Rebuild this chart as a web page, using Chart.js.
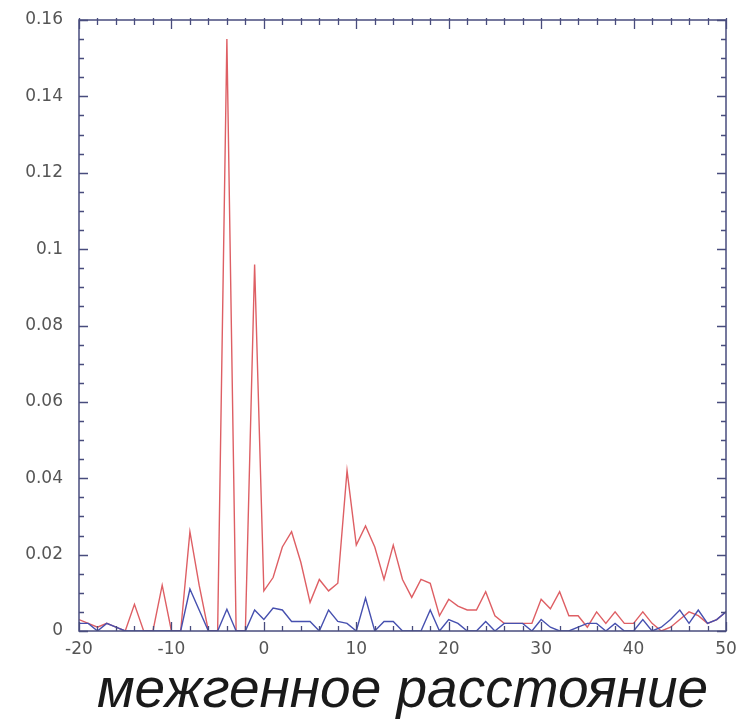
<!DOCTYPE html>
<html>
<head>
<meta charset="utf-8">
<script src="https://cdn.jsdelivr.net/npm/chart.js@4"></script>
<style>
  html, body { margin: 0; padding: 0; background: #fff; }
  #wrap { width: 748px; height: 719px; }
</style>
</head>
<body>
<div id="wrap"><canvas id="c" width="748" height="719"></canvas></div>
<script>
// Intergenic distance (x) from -20 to 50, step 1
const distances = [];
for (let d = -20; d <= 50; d++) distances.push(d);

// Red series values, one per distance
const redValues = [
  0.003, 0.002, 0.001, 0.002, 0.001, 0, 0.007, 0, 0, 0.012,
  0, 0, 0.026, 0.012, 0, 0, 0.155, 0, 0, 0.096,
  0.0105, 0.014, 0.022, 0.026, 0.018, 0.0075, 0.0135, 0.0105, 0.0125, 0.042,
  0.0225, 0.0275, 0.022, 0.0135, 0.0225, 0.0135, 0.0088, 0.0135, 0.0125, 0.004,
  0.0083, 0.0065, 0.0055, 0.0055, 0.0103, 0.004, 0.002, 0.002, 0.002, 0.002,
  0.0083, 0.0058, 0.0103, 0.004, 0.004, 0.001, 0.005, 0.002, 0.005, 0.002,
  0.002, 0.005, 0.002, 0, 0.001, 0.003, 0.005, 0.004, 0.002, 0.003,
  0.005
];

// Blue series values, one per distance
const blueValues = [
  0.002, 0.002, 0, 0.002, 0.001, 0, 0, 0, 0, 0,
  0, 0, 0.011, 0.0055, 0, 0, 0.0057, 0, 0, 0.0055,
  0.003, 0.006, 0.0055, 0.0025, 0.0025, 0.0025, 0, 0.0055, 0.0025, 0.002,
  0, 0.0086, 0, 0.0025, 0.0025, 0, 0, 0, 0.0055, 0,
  0.003, 0.002, 0, 0, 0.0025, 0, 0.002, 0.002, 0.002, 0,
  0.003, 0.001, 0, 0, 0.001, 0.002, 0.002, 0, 0.002, 0,
  0, 0.003, 0, 0.001, 0.003, 0.0055, 0.002, 0.0055, 0.002, 0.003,
  0.005
];

const X_MIN = -20, X_MAX = 50, X_STEP = 10, X_MINOR = 2;
const Y_MIN = 0, Y_MAX = 0.16, Y_STEP = 0.02, Y_MINOR = 0.005;
const X_TITLE = 'межгенное расстояние';

const FRAME = 'rgb(72,76,125)';

const toPoints = vals => distances.map((d, i) => ({ x: d, y: vals[i] }));

const framePlugin = {
  id: 'frame',
  afterDatasetsDraw(chart) {
    const { ctx, chartArea: { left, right, top, bottom }, scales: { x, y } } = chart;
    ctx.save();
    ctx.strokeStyle = FRAME;
    ctx.lineWidth = 1.5;
    ctx.strokeRect(left, top, right - left, bottom - top);
    ctx.lineWidth = 1.3;
    ctx.beginPath();
    for (let v = X_MIN; v <= X_MAX + 1e-9; v += X_MINOR) {
      const px = Math.round(x.getPixelForValue(v)) + 0.5;
      const len = (Math.abs(v % X_STEP) < 1e-9) ? 9 : 5;
      ctx.moveTo(px, bottom); ctx.lineTo(px, bottom - len);
      ctx.moveTo(px, top - 2); ctx.lineTo(px, top + len);
    }
    const n = Math.round((Y_MAX - Y_MIN) / Y_MINOR);
    const per = Math.round(Y_STEP / Y_MINOR);
    for (let i = 0; i <= n; i++) {
      const v = Y_MIN + i * Y_MINOR;
      const py = Math.round(y.getPixelForValue(v)) + 0.5;
      const len = (i % per === 0) ? 9 : 5;
      ctx.moveTo(left, py); ctx.lineTo(left + len, py);
      ctx.moveTo(right, py); ctx.lineTo(right - len, py);
    }
    ctx.stroke();
    ctx.restore();
  }
};

new Chart(document.getElementById('c'), {
  type: 'line',
  data: {
    datasets: [
      {
        label: 'blue',
        data: toPoints(blueValues),
        borderColor: 'rgb(70,80,175)',
        borderWidth: 1.4,
        pointRadius: 0,
        tension: 0,
        fill: false
      },
      {
        label: 'red',
        data: toPoints(redValues),
        borderColor: 'rgb(222,95,100)',
        borderWidth: 1.4,
        pointRadius: 0,
        tension: 0,
        fill: false
      }
    ]
  },
  options: {
    responsive: false,
    animation: false,
    devicePixelRatio: 1,
    layout: { padding: { top: 20, right: 22, left: 0, bottom: 0 } },
    plugins: { legend: { display: false }, tooltip: { enabled: false } },
    scales: {
      x: {
        type: 'linear',
        min: X_MIN, max: X_MAX,
        afterFit(s) { s.height = 88; s.paddingLeft = 0; s.paddingRight = 0; },
        grid: { display: false, drawTicks: false },
        border: { display: false },
        ticks: {
          stepSize: X_STEP,
          padding: 8,
          color: '#555',
          font: { family: 'DejaVu Sans', size: 17 },
          callback: v => String(v)
        },
        title: {
          display: true,
          text: X_TITLE,
          color: '#1a1a1a',
          font: { family: 'Liberation Sans', size: 55, style: 'italic', lineHeight: 1 },
          padding: { top: 0, bottom: 0 }
        }
      },
      y: {
        type: 'linear',
        min: Y_MIN, max: Y_MAX,
        afterFit(s) { s.width = 79; s.paddingTop = 0; s.paddingBottom = 0; },
        grid: { display: false, drawTicks: false },
        border: { display: false },
        ticks: {
          stepSize: Y_STEP,
          padding: 16,
          color: '#555',
          font: { family: 'DejaVu Sans', size: 17 },
          callback: v => String(+v.toFixed(3))
        }
      }
    }
  },
  plugins: [framePlugin]
});
</script>
</body>
</html>
